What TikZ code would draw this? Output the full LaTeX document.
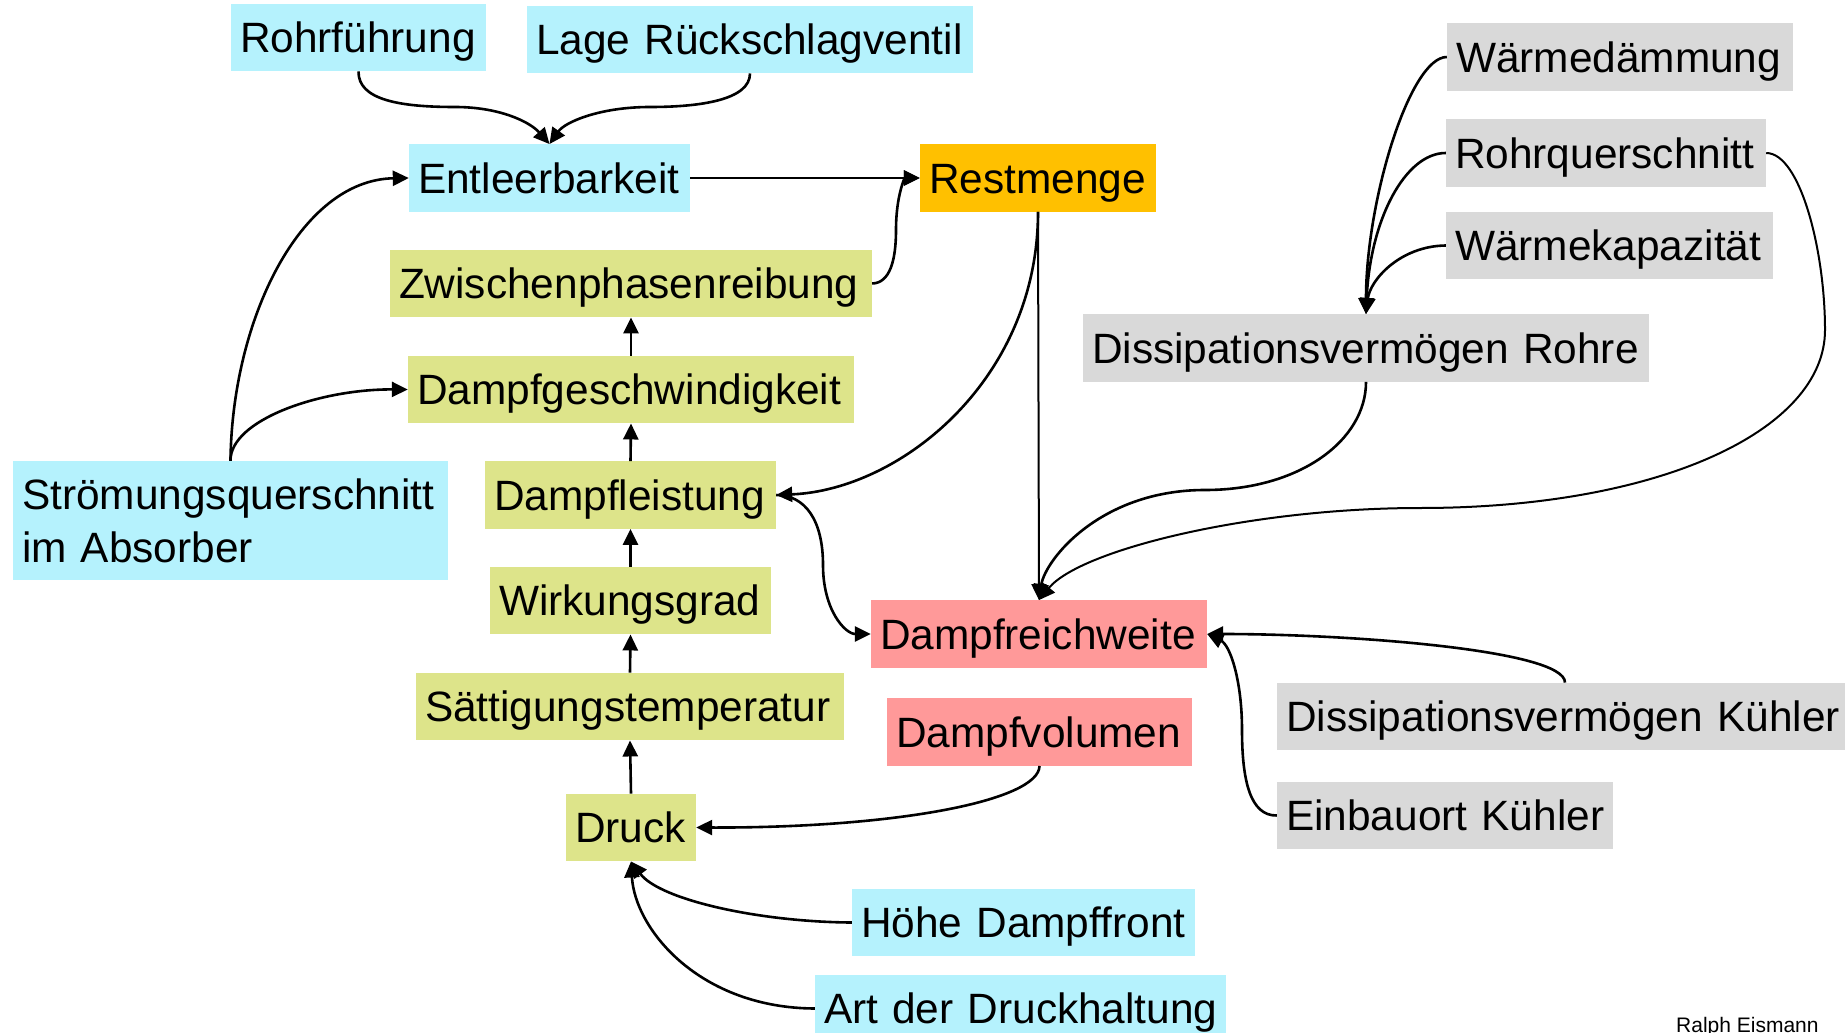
\documentclass[tikz,border=0pt]{standalone}
\usepackage{fontspec}
\setmainfont{Liberation Sans}
\usetikzlibrary{arrows.meta}
\definecolor{cyanbox}{RGB}{181,242,253}
\definecolor{greenbox}{RGB}{221,228,138}
\definecolor{orangebox}{RGB}{255,192,0}
\definecolor{pinkbox}{RGB}{255,153,153}
\definecolor{graybox}{RGB}{217,217,217}
\tikzset{
  box/.style={inner xsep=9pt, inner ysep=0pt, align=left, text height=30.4pt, text depth=0pt,
    font=\fontsize{42.4}{53}\selectfont, minimum height=67.5pt},
  cy/.style={box, fill=cyanbox},
  gr/.style={box, fill=greenbox},
  og/.style={box, fill=orangebox},
  pk/.style={box, fill=pinkbox},
  gy/.style={box, fill=graybox},
  con/.style={-{Triangle[length=16pt,width=15pt]}, line width=2.6pt},
  thin con/.style={con, line width=2pt},
}
\begin{document}
\begin{tikzpicture}[x=1pt,y=-1pt]
\useasboundingbox (0,0) rectangle (1845,1033);
% nodes
\node[cy, text width=237pt] (rohr) at (358.5,37.5) {\mbox{Rohrführung}};
\node[cy, text width=428pt] (lage) at (750,39.5) {\mbox{Lage Rückschlagventil}};
\node[cy, text width=263pt] (entl) at (549.5,178) {\mbox{Entleerbarkeit}};
\node[og, text width=218pt] (rest) at (1038,178) {\mbox{Restmenge}};
\node[gr, text width=464pt] (zwis) at (631,283.5) {\mbox{Zwischenphasenreibung}};
\node[gr, text width=428pt] (dges) at (631,389.5) {\mbox{Dampfgeschwindigkeit}};
\node[gr, text width=273pt] (dlei) at (630.5,495) {\mbox{Dampfleistung}};
\node[gr, text width=263pt] (wirk) at (630.5,600.5) {\mbox{Wirkungsgrad}};
\node[gr, text width=410pt] (saet) at (630,706.5) {\mbox{Sättigungstemperatur}};
\node[gr, text width=112pt] (druck) at (631,827.5) {\mbox{Druck}};
\node[cy, text width=325pt] (hoehe) at (1023.5,922.5) {\mbox{Höhe Dampffront}};
\node[cy, text width=393pt] (art) at (1020.5,1008.5) {\mbox{Art der Druckhaltung}};
\node[cy, text width=417pt, text depth=53pt, minimum height=119pt] (stroem) at (230.5,520.5) {\mbox{Strömungsquerschnitt}\\\mbox{im Absorber}};
\node[pk, text width=318pt] (dfr) at (1039,634) {\mbox{Dampfreichweite}};
\node[pk, text width=287pt] (dvol) at (1039.5,732) {\mbox{Dampfvolumen}};
\node[gy, text width=548pt] (dros) at (1366,348) {\mbox{Dissipationsvermögen Rohre}};
\node[gy, text width=328pt] (waerme) at (1620,57) {\mbox{Wärmedämmung}};
\node[gy, text width=302pt] (rquer) at (1606,153) {\mbox{Rohrquerschnitt}};
\node[gy, text width=309pt] (wkap) at (1609.5,245.5) {\mbox{Wärmekapazität}};
\node[gy, text width=558pt] (dkue) at (1565,716.5) {\mbox{Dissipationsvermögen Kühler}};
\node[gy, text width=318pt] (ekue) at (1445,815.5) {\mbox{Einbauort Kühler}};
\node[anchor=base west, inner sep=0pt, font=\fontsize{21}{25}\selectfont] (author) at (1676,1032) {Ralph Eismann};
% connectors
\draw[con] (rohr.south) .. controls (358,100) and (400,107) .. (455,107) .. controls (500,107) and (530,122) .. (entl.north);
\draw[con] (lage.south) .. controls (750,100) and (700,107) .. (650,107) .. controls (600,107) and (565,122) .. (entl.north);
\draw[con] (entl.east) -- (rest.west);
\draw[con] (zwis.east) .. controls (890,283) and (896,260) .. (896,230) .. controls (896,195) and (905,178) .. (rest.west);
\draw[con] (dges.north) -- (zwis.south);
\draw[con] (dlei.north) -- (dges.south);
\draw[con] (wirk.north) -- (dlei.south);
\draw[con] (saet.north) -- (wirk.south);
\draw[con] (druck.north) -- (saet.south);
\draw[con] (stroem.north) .. controls (232,320) and (300,180) .. (entl.west);
\draw[con] (stroem.north) .. controls (230,420) and (320,389) .. (dges.west);
\draw[con] (rest.south) .. controls (1038,380) and (900,490) .. (dlei.east);
\draw[thin con] (rest.south) -- (dfr.north);
\draw[con] (dlei.east) .. controls (805,495) and (823,520) .. (823,565) .. controls (823,610) and (845,634) .. (dfr.west);
\draw[con] (dros.south) .. controls (1366,440) and (1300,490) .. (1205,490) .. controls (1100,490) and (1045,560) .. (dfr.north);
\draw[thin con] (rquer.east) .. controls (1800,153) and (1825,250) .. (1825,330) .. controls (1825,430) and (1660,508) .. (1420,508) .. controls (1250,508) and (1080,550) .. (dfr.north);
\draw[con] (waerme.west) .. controls (1410,57) and (1366,200) .. (dros.north);
\draw[con] (rquer.west) .. controls (1405,153) and (1370,220) .. (dros.north);
\draw[con] (wkap.west) .. controls (1400,246) and (1370,280) .. (dros.north);
\draw[con] (dvol.south) .. controls (1039,800) and (900,828) .. (druck.east);
\draw[con] (hoehe.west) .. controls (760,922) and (660,900) .. (druck.south);
\draw[con] (art.west) .. controls (700,1008) and (635,930) .. (druck.south);
\draw[con] (dkue.north) .. controls (1565,650) and (1350,634) .. (dfr.east);
\draw[con] (ekue.west) .. controls (1250,816) and (1242,780) .. (1242,730) .. controls (1242,680) and (1230,645) .. (dfr.east);
\end{tikzpicture}
\end{document}
